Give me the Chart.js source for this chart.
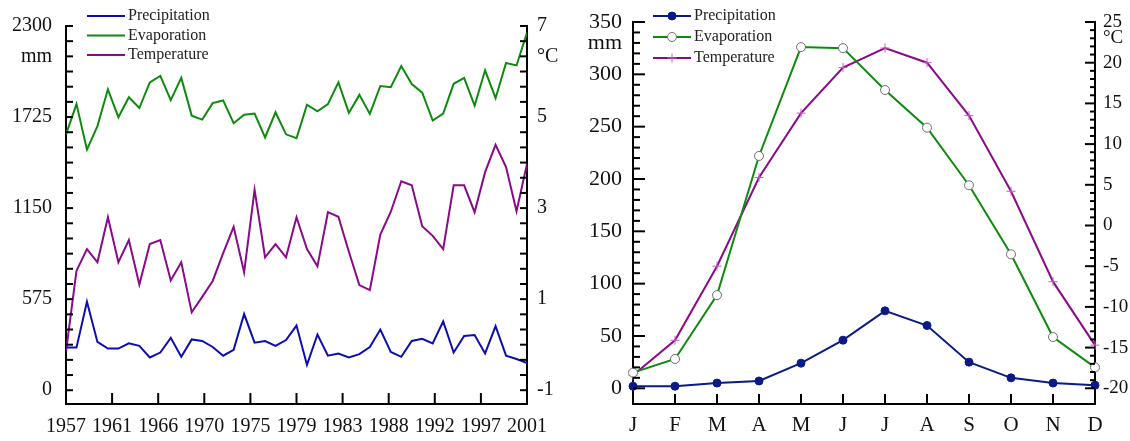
<!DOCTYPE html>
<html>
<head>
<meta charset="utf-8">
<script src="https://cdn.jsdelivr.net/npm/chart.js@4.4.0/dist/chart.umd.min.js"></script>
<style>
  html, body { margin: 0; padding: 0; background: #fff; }
  #wrap { position: relative; width: 1130px; height: 441px; }
  #annual  { position: absolute; left: 0;     top: 0; }
  #monthly { position: absolute; left: 560px; top: 0; }
</style>
</head>
<body>
<div id="wrap">
  <canvas id="annual"  width="560" height="441"></canvas>
  <canvas id="monthly" width="570" height="441"></canvas>
</div>
<script>
// ── Annual series 1957–2001 ───────────────────────────────────────────────────
const YEARS = [1957, 1958, 1959, 1960, 1961, 1962, 1963, 1964, 1965, 1966, 1967, 1968,
  1969, 1970, 1971, 1972, 1973, 1974, 1975, 1976, 1977, 1978, 1979, 1980, 1981, 1982,
  1983, 1984, 1985, 1986, 1987, 1988, 1989, 1990, 1991, 1992, 1993, 1994, 1995, 1996,
  1997, 1998, 1999, 2000, 2001];

const annualPrecip = [269, 269, 559, 305, 263, 263, 296, 280, 207, 238, 331, 211,
  321, 311, 273, 218, 255, 481, 300, 311, 280, 317, 408, 160, 352, 218,
  232, 207, 228, 273, 383, 242, 211, 311, 325, 296, 435, 238, 342, 348,
  232, 404, 218, 197, 172];

const annualEvap = [1616, 1807, 1519, 1668, 1900, 1724, 1850, 1782, 1944, 1985, 1832, 1972,
  1734, 1709, 1813, 1830, 1686, 1740, 1747, 1596, 1755, 1616, 1591, 1803, 1761, 1807,
  1944, 1751, 1865, 1745, 1921, 1913, 2047, 1933, 1879, 1703, 1747, 1935, 1972, 1797,
  2020, 1844, 2066, 2051, 2258];

const annualTemp = [-0.15, 1.62, 2.10, 1.81, 2.80, 1.81, 2.30, 1.32, 2.21, 2.30, 1.41, 1.81,
  0.71, 1.05, 1.40, 2.01, 2.59, 1.59, 3.40, 1.92, 2.21, 1.92, 2.80, 2.10, 1.72, 2.91,
  2.81, 2.04, 1.31, 1.20, 2.42, 2.92, 3.59, 3.50, 2.60, 2.39, 2.10, 3.50, 3.50, 2.91,
  3.79, 4.39, 3.90, 2.93, 3.97];

const YEAR_TICKS = [1957, 1961.4, 1965.8, 1970.2, 1974.6, 1979, 1983.4, 1987.8, 1992.2, 1996.6, 2001];

// ── Monthly means ─────────────────────────────────────────────────────────────
const MONTHS = ["J", "F", "M", "A", "M", "J", "J", "A", "S", "O", "N", "D"];
const monthPrecip = [2, 2, 5, 7, 24, 46, 74, 60, 25, 10, 5, 3];
const monthEvap   = [15, 28, 89, 222, 326, 325, 285, 249, 194, 128, 49, 20];
const monthTemp   = [-18.4, -14.1, -5.0, 5.9, 13.8, 19.4, 21.8, 20.0, 13.5, 4.2, -6.9, -14.7];

// ── Colours / fonts ───────────────────────────────────────────────────────────
const COLORS = {
  precip:  "#0d0db0",
  navy:    "#0b1a86",
  evap:    "#0f8a0f",
  temp:    "#8a0a8a",
  cross:   "#c45ac4",
  ring:    "#6e6e6e",
  axis:    "#000",
};
const SERIF = "'Liberation Serif', 'Times New Roman', serif";

// ── Ticks drawn into the plot area (the library draws them outwards) ─────────
function inwardTicks(cfg) {
  return {
    id: "inwardTicks",
    afterDatasetsDraw(chart) {
      const { ctx, chartArea: a } = chart;
      ctx.save();
      ctx.strokeStyle = COLORS.axis;
      ctx.lineWidth = 2;
      Object.keys(cfg).forEach((id) => {
        const scale = chart.scales[id];
        const c = cfg[id];
        scale.ticks.forEach((t, i) => {
          const len = c.every && i % c.every === 0 ? c.major : c.minor;
          const p = scale.getPixelForTick(i);
          ctx.beginPath();
          if (scale.isHorizontal()) {
            ctx.moveTo(p, a.bottom);
            ctx.lineTo(p, a.bottom - len);
          } else if (scale.position === "left") {
            ctx.moveTo(a.left, p);
            ctx.lineTo(a.left + len, p);
          } else {
            ctx.moveTo(a.right, p);
            ctx.lineTo(a.right - len, p);
          }
          ctx.stroke();
        });
      });
      ctx.restore();
    },
  };
}

// ── Legend: line sample (+ marker) and label, top-left of the plot ───────────
function lineLegend(cfg) {
  return {
    id: "lineLegend",
    afterDraw(chart) {
      const { ctx } = chart;
      ctx.save();
      ctx.font = `${cfg.size}px ${SERIF}`;
      ctx.textBaseline = "middle";
      chart.data.datasets.forEach((ds, i) => {
        const y = cfg.y + i * cfg.dy;
        ctx.strokeStyle = ds.borderColor;
        ctx.lineWidth = ds.borderWidth;
        ctx.beginPath();
        ctx.moveTo(cfg.x, y);
        ctx.lineTo(cfg.x + cfg.len, y);
        ctx.stroke();
        if (ds.pointRadius) {
          ctx.fillStyle = ds.pointBackgroundColor;
          ctx.strokeStyle = ds.pointBorderColor;
          ctx.lineWidth = ds.pointBorderWidth;
          Chart.helpers.drawPoint(ctx, {
            pointStyle: ds.pointStyle, radius: ds.pointRadius,
            borderWidth: ds.pointBorderWidth, rotation: 0,
          }, cfg.x + cfg.len / 2, y);
        }
        ctx.fillStyle = "#222";
        ctx.fillText(ds.label, cfg.x + cfg.len + cfg.gap, y);
      });
      ctx.restore();
    },
  };
}

function fixWidth(w)  { return (scale) => { scale.width = w; }; }
function fixHeight(h) { return (scale) => { scale.height = h; }; }

const axisBorder = { display: true, color: COLORS.axis, width: 2 };
const noGrid     = { display: false, drawTicks: false };

// ── Left: annual precipitation / evaporation / temperature ───────────────────
const MM_MAX = 2300, MM_MIN = -87;
const C_MIN = -1.303, C_MAX = 7;

new Chart(document.getElementById("annual"), {
  type: "line",
  data: {
    labels: YEARS,
    datasets: [
      { label: "Precipitation", data: annualPrecip, borderColor: COLORS.precip, borderWidth: 2, pointRadius: 0, yAxisID: "y" },
      { label: "Evaporation",   data: annualEvap,   borderColor: COLORS.evap,   borderWidth: 2, pointRadius: 0, yAxisID: "y" },
      { label: "Temperature",   data: annualTemp,   borderColor: COLORS.temp,   borderWidth: 2, pointRadius: 0, yAxisID: "y1" },
    ],
  },
  options: {
    responsive: false,
    animation: false,
    events: [],
    layout: { padding: { top: 20, left: 0, right: 0, bottom: 0 } },
    plugins: { legend: { display: false }, tooltip: { enabled: false } },
    scales: {
      x: {
        type: "linear", min: 1957, max: 2001,
        grid: noGrid, border: axisBorder,
        afterBuildTicks: (s) => { s.ticks = YEAR_TICKS.map((v) => ({ value: v })); },
        afterFit: fixHeight(37),
        ticks: { color: "#111", padding: 11, maxRotation: 0, autoSkip: false,
                 font: { family: SERIF, size: 20 }, callback: (v) => String(Math.round(v)) },
      },
      y: {
        position: "left", min: MM_MIN, max: MM_MAX,
        grid: noGrid, border: axisBorder,
        afterBuildTicks: (s) => {
          s.ticks = Array.from({ length: 25 }, (_, i) => ({ value: i * MM_MAX / 24 }));
        },
        afterFit: fixWidth(66),
        ticks: { color: "#111", padding: 14, autoSkip: false, font: { family: SERIF, size: 20 },
                 callback: (v, i) => (i === 22 ? "mm" : i % 6 === 0 ? String(Math.round(v)) : "") },
      },
      y1: {
        position: "right", min: C_MIN, max: C_MAX,
        grid: noGrid, border: axisBorder,
        afterBuildTicks: (s) => {
          s.ticks = Array.from({ length: 25 }, (_, i) => ({ value: -1 + i / 3 }));
        },
        afterFit: fixWidth(33),
        ticks: { color: "#111", padding: 10, autoSkip: false, font: { family: SERIF, size: 20 },
                 callback: (v, i) => (i === 22 ? "°C" : i % 6 === 0 ? String(Math.round(v)) : "") },
      },
    },
  },
  plugins: [
    inwardTicks({ x: { minor: 11 }, y: { minor: 7 }, y1: { minor: 7 } }),
    lineLegend({ x: 87, y: 16, dy: 19.5, len: 38, gap: 3, size: 16 }),
  ],
});

// ── Right: monthly means ─────────────────────────────────────────────────────
new Chart(document.getElementById("monthly"), {
  type: "line",
  data: {
    labels: MONTHS,
    datasets: [
      { label: "Precipitation", data: monthPrecip, borderColor: COLORS.navy, borderWidth: 2,
        pointStyle: "circle", pointRadius: 4, pointBackgroundColor: COLORS.navy,
        pointBorderColor: COLORS.navy, pointBorderWidth: 1, yAxisID: "y" },
      { label: "Evaporation", data: monthEvap, borderColor: COLORS.evap, borderWidth: 2,
        pointStyle: "circle", pointRadius: 4.5, pointBackgroundColor: "#fff",
        pointBorderColor: COLORS.ring, pointBorderWidth: 1, yAxisID: "y" },
      { label: "Temperature", data: monthTemp, borderColor: COLORS.temp, borderWidth: 2,
        pointStyle: "cross", pointRadius: 4.5, pointBackgroundColor: COLORS.cross,
        pointBorderColor: COLORS.cross, pointBorderWidth: 1, yAxisID: "y1" },
    ],
  },
  options: {
    responsive: false,
    animation: false,
    events: [],
    layout: { padding: { top: 21, left: 0, right: 0, bottom: 0 } },
    plugins: { legend: { display: false }, tooltip: { enabled: false } },
    scales: {
      x: {
        type: "category", offset: false,
        grid: { display: false, drawTicks: false, offset: false }, border: axisBorder,
        afterFit: fixHeight(37),
        ticks: { color: "#111", padding: 9, maxRotation: 0, autoSkip: false,
                 font: { family: SERIF, size: 21 } },
      },
      y: {
        position: "left", min: -15, max: 350,
        grid: noGrid, border: axisBorder,
        afterBuildTicks: (s) => {
          s.ticks = Array.from({ length: 36 }, (_, i) => ({ value: i * 10 }));
        },
        afterFit: fixWidth(73),
        ticks: { color: "#111", padding: 11, autoSkip: false,
                 font: { family: SERIF, size: 22, lineHeight: 1 },
                 callback: (v, i) => (i === 33 ? "mm" : i % 5 === 0 ? String(v) : "") },
      },
      y1: {
        position: "right", min: -21.93, max: 25,
        grid: noGrid, border: axisBorder,
        afterBuildTicks: (s) => {
          s.ticks = Array.from({ length: 46 }, (_, i) => ({ value: i - 20 }));
        },
        afterFit: fixWidth(35),
        ticks: { color: "#111", padding: 8, autoSkip: false,
                 font: { family: SERIF, size: 19, lineHeight: 1 },
                 callback: (v, i) => (i === 43 ? "°C" : i % 5 === 0 ? String(v) : "") },
      },
    },
  },
  plugins: [
    inwardTicks({ x: { minor: 10 }, y: { minor: 7, major: 12, every: 5 }, y1: { minor: 5, major: 10, every: 5 } }),
    lineLegend({ x: 93, y: 16, dy: 21, len: 38, gap: 3, size: 16 }),
  ],
});
</script>
</body>
</html>
